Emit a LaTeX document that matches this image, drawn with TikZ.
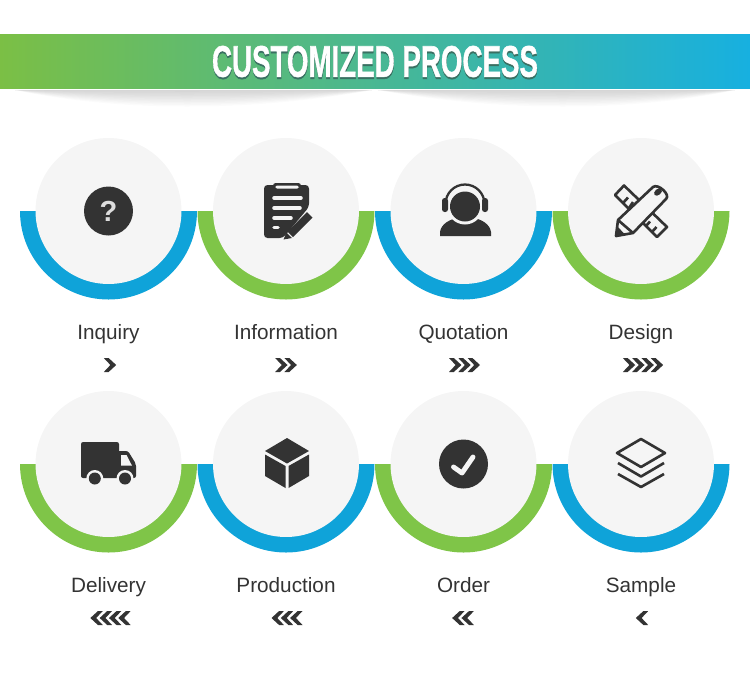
\documentclass[tikz,border=0pt]{standalone}
\usepackage{fontspec}
\setmainfont{Liberation Sans}
\newfontfamily\titlefont[BoldFeatures={FakeBold=1.2}]{Liberation Sans}
\definecolor{ringblue}{HTML}{0FA3D9}
\definecolor{ringgreen}{HTML}{7FC548}
\definecolor{discgray}{HTML}{F5F5F5}
\definecolor{icondark}{HTML}{333333}
\definecolor{bannerleft}{HTML}{7BBF45}
\definecolor{bannermid}{HTML}{4AB690}
\definecolor{bannerright}{HTML}{17B0E0}
\definecolor{titleshade}{HTML}{3A6F62}
\tikzset{
  disc/.style={circle, fill=discgray, inner sep=0pt, minimum size=2.92cm},
  stage label/.style={text=icondark, anchor=base, font=\fontsize{11.8}{14}\selectfont},
  icon fill/.style={fill=icondark},
  icon line/.style={draw=icondark, line width=1.5pt, line join=round},
  icon gap/.style={fill=discgray},
  bar/.style={draw=discgray, line width=2pt, line cap=round},
  chevron/.pic={\fill[icondark] (-6.2,-7) -- (-1.4,-7) -- (6.2,0) -- (-1.4,7) -- (-6.2,7) -- (0.4,0) -- cycle;},
}
\begin{document}
\begin{tikzpicture}[x=0.02cm, y=-0.02cm]
  \useasboundingbox (0,0) rectangle (750,694);
  \shade[left color=bannerleft, middle color=bannermid, right color=bannerright] (0,34) rectangle (750,88.5);
  \foreach \d in {2,4,...,22}{
    \fill[black, opacity=0.016] (15,90) .. controls (120,90+\d) and (250,90+\d) .. (372,90) -- cycle;
    \fill[black, opacity=0.016] (378,90) .. controls (500,90+\d) and (630,90+\d) .. (735,90) -- cycle;
  }
  \node[text=titleshade, inner sep=0pt] (title shadow) at (375.2,63.5) {\resizebox{6.52cm}{0.62cm}{\titlefont\bfseries CUSTOMIZED PROCESS}};
  \node[text=white, inner sep=0pt] (title) at (375,61.5) {\resizebox{6.52cm}{0.62cm}{\titlefont\bfseries CUSTOMIZED PROCESS}};

  \foreach \name/\x/\y/\col/\txt/\cx/\n/\dir in {
    inquiry/108.5/211/ringblue/Inquiry/110/1/1,
    information/286/211/ringgreen/Information/286/2/1,
    quotation/463.5/211/ringblue/Quotation/464.5/3/1,
    design/641/211/ringgreen/Design/643/4/1,
    delivery/108.5/464/ringgreen/Delivery/110.5/4/-1,
    production/286/464/ringblue/Production/287/3/-1,
    order/463.5/464/ringgreen/Order/463/2/-1,
    sample/641/464/ringblue/Sample/642/1/-1}{
    \fill[\col] (\x-88.5,\y) arc[start angle=180, end angle=0, radius=88.5] -- cycle;
    \node[disc] (\name) at (\x,\y) {};
    \node[stage label] (\name text) at (\x,\y+128) {\txt};
    \foreach \i in {1,...,\n}{
      \pic[xscale=\dir] at (\cx+9.3*\i-4.65*\n-4.65,\y+154) {chevron};
    }
  }

  % question
  \node[circle, icon fill, inner sep=0pt, minimum size=0.98cm, text=discgray!90!black, font=\fontsize{16.5}{16.5}\selectfont\bfseries] (question) at (108.5,211) {?};

  % clipboard
  \fill[icon fill, rounded corners=2pt] (264,185) -- (309,185) -- (309,207) -- (283,238) -- (264,238) -- cycle;
  \fill[icon fill, rounded corners=1.5pt] (273,183) rectangle (301,190);
  \fill[icon gap, rounded corners=1pt] (275,185.5) rectangle (299,188.5);
  \draw[bar] (274,198) -- (301,198);
  \draw[bar] (274,208) -- (300,208);
  \draw[bar] (274,218) -- (291,218);
  \draw[bar] (274,227.5) -- (278,227.5);
  \fill[icon fill] (307,212) -- (312.5,217.5) -- (293,237) -- (287.5,231.5) -- cycle;
  \fill[icon fill] (286.5,232.5) -- (292,238) -- (283.5,239.5) -- cycle;

  % headset
  \fill[icon fill] (440,236) -- (440,232) .. controls (441,224) and (450,219) .. (458,218) -- (473,218) .. controls (481,219) and (490,224) .. (491,232) -- (491,236) -- cycle;
  \fill[icon gap] (465,206.5) circle[radius=18];
  \fill[icon fill] (465,206.5) circle[radius=15];
  \draw[draw=icondark, line width=1.3pt] (445.5,204) arc[start angle=180, end angle=360, radius=19.5];
  \fill[icon fill, rounded corners=1.5pt] (442,198) rectangle (448,212);
  \fill[icon fill, rounded corners=1.5pt] (482,198) rectangle (488,212);

  % ruler and pencil
  \draw[icon line] (624,185.5) -- (615,195) -- (657,237) -- (667,227) -- cycle;
  \draw[icon line] (628,197.5) -- (623,203);
  \draw[icon line] (633,202) -- (629,208);
  \draw[icon line] (646,226) -- (650,221.5);
  \draw[icon line] (652,232) -- (656.5,227);
  \draw[icon line, icon gap] (618,220) -- (653,187) .. controls (658,183) and (671,195) .. (666,199) -- (633,233) -- (616,236) -- cycle;
  \draw[icon line] (618,220) -- (633,233);
  \fill[icon fill] (616,236) -- (617,226) -- (625,234.5) -- cycle;
  \fill[icon fill, rotate around={40:(658,192)}] (658,192) ellipse[x radius=4.5, y radius=3];

  % truck
  \fill[icon fill, rounded corners=1.2pt] (81,442) rectangle (119,478);
  \fill[icon fill, rounded corners=1.2pt] (117,451) -- (128,451) -- (136,464) -- (136,478) -- (117,478) -- cycle;
  \fill[icon gap] (121,455) -- (126.5,455) -- (132,465.7) -- (121,465.7) -- cycle;
  \foreach \wx in {94.8,125}{
    \fill[icon gap] (\wx,478.5) circle[radius=8.5];
    \fill[icon fill] (\wx,478.5) circle[radius=6];
  }

  % cube
  \fill[icon fill] (287,438) -- (309,451) -- (287,463.5) -- (265,451) -- cycle;
  \fill[icon fill] (265,454.5) -- (285.5,466) -- (285.5,488) -- (265,476) -- cycle;
  \fill[icon fill] (309,454.5) -- (288.5,466) -- (288.5,488) -- (309,476) -- cycle;

  % check
  \node[circle, icon fill, inner sep=0pt, minimum size=0.98cm] (check) at (463.5,464) {};
  \draw[draw=discgray, line width=2.8pt, line cap=round, line join=round] (453.5,467) -- (462,473) -- (473,457);

  % layers
  \draw[icon line] (641,439) -- (665,453) -- (641,467) -- (617,453) -- cycle;
  \draw[icon line] (618,463) -- (641,476.5) -- (664,463);
  \draw[icon line] (618,474) -- (641,487) -- (664,474);
\end{tikzpicture}
\end{document}
